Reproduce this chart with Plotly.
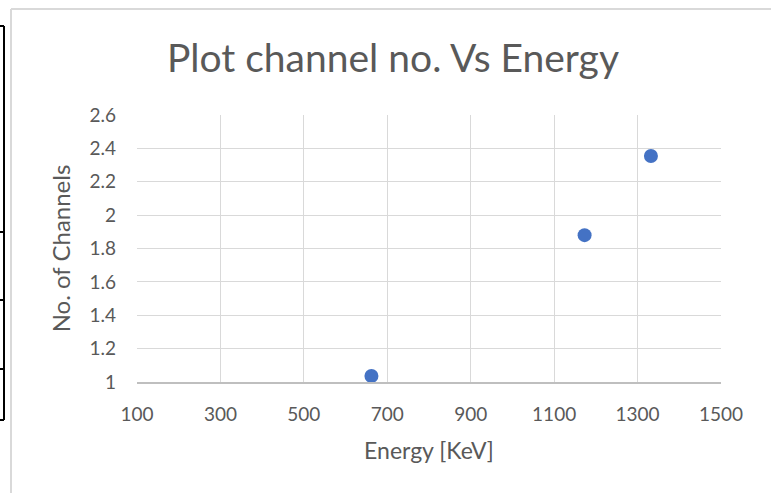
"""
Plot channel no. Vs Energy - Excel 스타일 산점도 재현
"""
import plotly.graph_objects as go

# 데이터
energy_kev = [662, 1173, 1332]
channels = [1.036, 1.88, 2.354]

x_ticks = [100, 300, 500, 700, 900, 1100, 1300, 1500]
y_ticks = [1, 1.2, 1.4, 1.6, 1.8, 2, 2.2, 2.4, 2.6]

W, H = 771, 493
L, R, T, B = 137, 721, 115, 382  # plot area (px)

FONT = "Lato, sans-serif"
TEXT = "#595959"
GRID = "#d9d9d9"


def px(x):
    return (x - L) / (R - L)


def py(y):
    return (B - y) / (B - T)


fig = go.Figure()
fig.add_trace(go.Scatter(
    x=energy_kev, y=channels, mode="markers",
    marker=dict(color="#4472C4", size=14),
    showlegend=False,
))

shapes = []
# 차트 테두리 (회색)
shapes.append(dict(type="line", xref="paper", yref="paper",
                   x0=px(11), x1=px(11), y0=py(9), y1=py(H + 5),
                   line=dict(color=GRID, width=2)))
shapes.append(dict(type="line", xref="paper", yref="paper",
                   x0=px(11), x1=px(W + 5), y0=py(9), y1=py(9),
                   line=dict(color=GRID, width=2)))
# 왼쪽 셀 테두리 (검정)
shapes.append(dict(type="line", xref="paper", yref="paper",
                   x0=px(4), x1=px(4), y0=py(26), y1=py(420),
                   line=dict(color="black", width=2)))
for yy in [26, 232, 300, 369, 420]:
    shapes.append(dict(type="line", xref="paper", yref="paper",
                       x0=px(-10), x1=px(4), y0=py(yy), y1=py(yy),
                       line=dict(color="black", width=2)))

fig.update_layout(
    width=W, height=H,
    margin=dict(l=L, r=W - R, t=T, b=H - B, autoexpand=False),
    paper_bgcolor="white", plot_bgcolor="white",
    font=dict(family=FONT, color=TEXT, size=19),
    title=dict(text="Plot channel no. Vs Energy", x=393 / W,
               xanchor="center", y=1 - 58 / H, yanchor="middle",
               font=dict(family=FONT, size=39, color=TEXT)),
    shapes=shapes,
)

fig.update_xaxes(
    range=[100, 1500], tickvals=x_ticks, showgrid=True, gridcolor=GRID,
    gridwidth=1, zeroline=False, showline=True, linecolor="#bfbfbf",
    linewidth=1.5, ticks="", ticklabelstandoff=14,
    tickfont=dict(family=FONT, size=19, color=TEXT),
    title=dict(text="Energy [KeV]", font=dict(family=FONT, size=23, color=TEXT),
               standoff=19),
    automargin=False,
)
fig.update_yaxes(
    range=[1, 2.6], tickvals=y_ticks, showgrid=True, gridcolor=GRID,
    gridwidth=1, zeroline=False, showline=False, ticks="",
    ticklabelstandoff=20,
    tickfont=dict(family=FONT, size=19, color=TEXT),
    title=dict(text="No. of Channels", font=dict(family=FONT, size=24, color=TEXT),
               standoff=12),
    automargin=False,
)

# body 기본 여백 제거 (왼쪽 셀 테두리까지 보이도록)
fig.write_html("out.html", config={"displayModeBar": False},
               post_script="document.body.style.margin='0';")
